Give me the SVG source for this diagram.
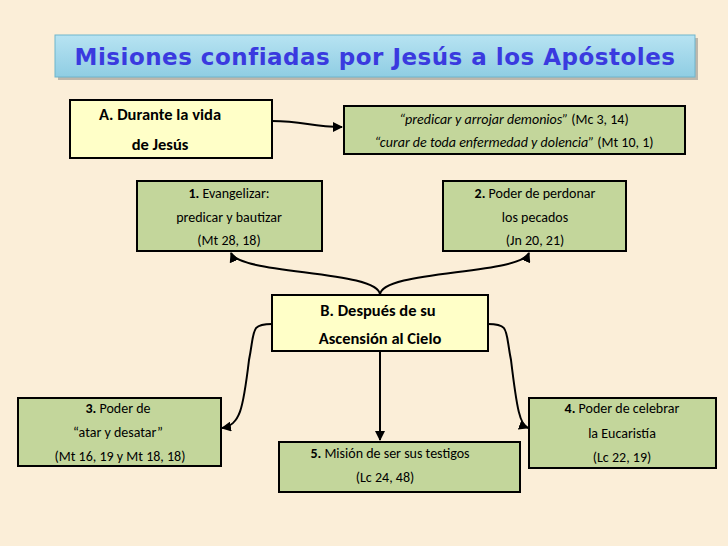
<svg xmlns="http://www.w3.org/2000/svg" width="728" height="546" viewBox="0 0 728 546">
<defs>
<linearGradient id="tg" x1="0" y1="0" x2="0" y2="1"><stop offset="0" stop-color="#b7e3f2"/><stop offset="1" stop-color="#8fcde3"/></linearGradient>
<marker id="ah" viewBox="0 0 10 10" refX="9" refY="5" markerWidth="5" markerHeight="5" orient="auto"><path d="M0,0 L10,5 L0,10 z" fill="#000"/></marker>
<style>
.y{fill:#ffffc8;stroke:#000;stroke-width:2}
.g{fill:#c3d69b;stroke:#000;stroke-width:2}
text{font-family:Carlito,"Liberation Sans",sans-serif;font-size:14px;fill:#000;text-anchor:middle}
.b{font-weight:bold;font-size:16.5px}
.i{font-style:italic}
.c path{fill:none;stroke:#000;stroke-width:2;marker-end:url(#ah)}
</style>
</defs>
<rect width="728" height="546" fill="#fbeed8"/>
<g id="title">
<rect x="58" y="38" width="640" height="42" fill="#7f7f7f" opacity="0.5"/>
<rect x="55" y="35" width="640" height="42" fill="url(#tg)" stroke="#6fb5cc"/>
<text x="375" y="65" style="font-family:'DejaVu Sans',sans-serif;font-size:23px;font-weight:bold;fill:#3a3adf;letter-spacing:0.5px">Misiones confiadas por Jesús a los Apóstoles</text>
</g>
<g class="c" id="connectors">
<path d="M272,121 C305,121 310,127 342,127"/>
<path d="M380,295 C380,270 240,275 231,253"/>
<path d="M380,295 C380,270 520,275 529,253"/>
<path d="M272,324 C250,324 255,330 249,360 C243,410 240,425 222,428"/>
<path d="M488,324 C510,324 505,330 511,360 C517,410 520,425 528,428"/>
<path d="M380,351 L380,440"/>
</g>
<g id="nA"><rect class="y" x="70" y="100" width="202" height="58"/>
<text class="b" x="160" y="120">A. Durante la vida</text><text class="b" x="160" y="150">de Jesús</text></g>
<g id="nA1"><rect class="g" x="344" y="106" width="341" height="48"/>
<text x="514" y="124"><tspan class="i">“predicar y arrojar demonios”</tspan> (Mc 3,  14)</text>
<text x="514" y="147"><tspan class="i">“curar de toda enfermedad y dolencia”</tspan> (Mt 10, 1)</text></g>
<g id="n1"><rect class="g" x="137" y="181" width="185" height="70"/>
<text x="229" y="198"><tspan font-weight="bold">1.</tspan> Evangelizar:</text>
<text x="229" y="222">predicar y bautizar</text><text x="229" y="245">(Mt 28, 18)</text></g>
<g id="n2"><rect class="g" x="443" y="181" width="183" height="70"/>
<text x="535" y="198"><tspan font-weight="bold">2.</tspan> Poder de perdonar</text>
<text x="535" y="222">los pecados</text><text x="535" y="245">(Jn 20, 21)</text></g>
<g id="nB"><rect class="y" x="272" y="295" width="216" height="56"/>
<text class="b" x="378" y="316">B. Después de su</text><text class="b" x="380" y="344">Ascensión al Cielo</text></g>
<g id="n3"><rect class="g" x="18" y="398" width="203" height="68"/>
<text x="118" y="413"><tspan font-weight="bold">3.</tspan> Poder de</text>
<text x="118" y="437">“atar y desatar”</text><text x="120" y="461">(Mt 16, 19 y Mt 18, 18)</text></g>
<g id="n5"><rect class="g" x="279" y="442" width="241" height="50"/>
<text x="390" y="458"><tspan font-weight="bold">5.</tspan> Misión de ser sus testigos</text>
<text x="385" y="482">(Lc 24, 48)</text></g>
<g id="n4"><rect class="g" x="529" y="398" width="187" height="70"/>
<text x="622" y="413"><tspan font-weight="bold">4.</tspan> Poder de celebrar</text>
<text x="622" y="438">la Eucaristía</text><text x="622" y="462">(Lc 22, 19)</text></g>
</svg>
